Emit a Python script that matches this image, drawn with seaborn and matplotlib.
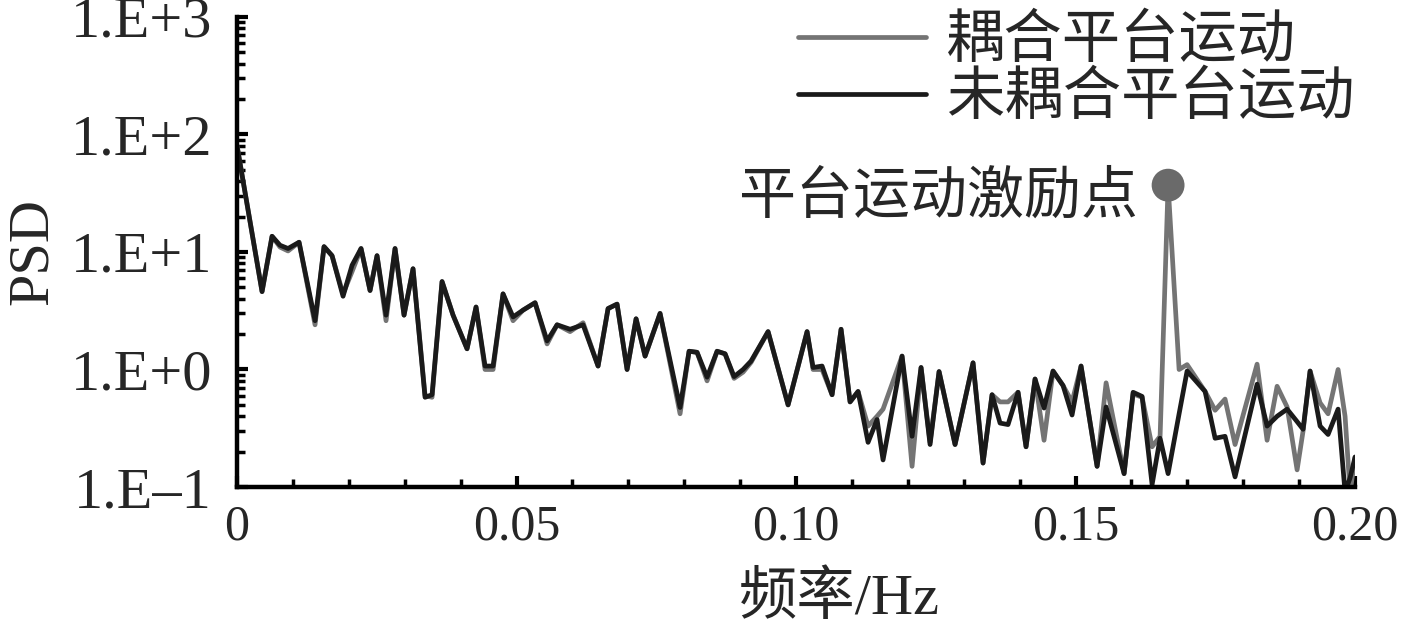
import numpy as np
import pandas as pd
import matplotlib
matplotlib.use('Agg')
import matplotlib.pyplot as plt
import seaborn as sns
from matplotlib.ticker import MultipleLocator, LogLocator, NullFormatter

# 频率 / Hz (顶点位置, 从图上读出)
freq = [0.0, 0.00447, 0.00626, 0.00769, 0.00912, 0.01109, 0.01395, 0.01556, 0.01699, 0.01896,
        0.02057, 0.02218, 0.02379, 0.02504, 0.02665, 0.02826, 0.02987, 0.03148, 0.03363, 0.03488,
        0.03667, 0.03864, 0.04114, 0.04275, 0.04436, 0.0458, 0.04758, 0.04937, 0.05116, 0.05331,
        0.05546, 0.05725, 0.05957, 0.0619, 0.06458, 0.06637, 0.06798, 0.06977, 0.07138, 0.07299,
        0.07567, 0.07925, 0.08086, 0.08229, 0.08408, 0.08587, 0.0873, 0.08891, 0.09052, 0.09195,
        0.09499, 0.09857, 0.10197, 0.10304, 0.10465, 0.10644, 0.10805, 0.10966, 0.11109, 0.11288,
        0.11449, 0.11556, 0.11896, 0.12075, 0.12236, 0.12397, 0.12558, 0.12844, 0.13166, 0.13345,
        0.13506, 0.13649, 0.13792, 0.13971, 0.14114, 0.14275, 0.14436, 0.14597, 0.14776, 0.14937,
        0.15098, 0.15385, 0.15546, 0.15868, 0.16029, 0.1619, 0.16369, 0.16512, 0.16655, 0.16852,
        0.16995, 0.17317, 0.17496, 0.17674, 0.17853, 0.18247, 0.18426, 0.18605, 0.18784, 0.18963,
        0.1907, 0.19195, 0.19374, 0.19517, 0.19696, 0.19821, 0.19911, 0.2]

# 耦合平台运动 (灰线)
psd_coupled = [80, 4.6, 13.6, 11.0, 10.2, 12.1, 2.4, 11.1, 9.3, 4.4,
               6.8, 10.7, 4.7, 9.3, 2.6, 10.7, 2.9, 7.2, 0.60, 0.58,
               5.6, 2.9, 1.5, 3.4, 1.0, 1.0, 4.4, 2.6, 3.2, 3.7,
               1.65, 2.4, 2.1, 2.5, 1.07, 3.3, 3.6, 1.0, 2.7, 1.3,
               3.0, 0.42, 1.43, 1.40, 0.80, 1.43, 1.36, 0.84, 0.95, 1.15,
               2.1, 0.50, 2.1, 1.0, 1.0, 0.61, 2.2, 0.53, 0.65, 0.33,
               0.40, 0.46, 1.3, 0.15, 1.04, 0.24, 0.96, 0.23, 1.14, 0.16,
               0.61, 0.53, 0.53, 0.64, 0.22, 0.83, 0.25, 0.97, 0.73, 0.53,
               1.07, 0.15, 0.77, 0.13, 0.62, 0.58, 0.22, 0.27, 37, 1.0,
               1.1, 0.65, 0.45, 0.56, 0.23, 1.11, 0.25, 0.72, 0.48, 0.14,
               0.30, 0.97, 0.52, 0.42, 1.0, 0.40, 0.09, 0.18]

# 未耦合平台运动 (黑线)
psd_uncoupled = [80, 4.6, 13.6, 11.4, 10.7, 12.1, 2.6, 11.1, 9.3, 4.2,
                 7.7, 10.7, 4.7, 9.3, 2.9, 10.7, 2.9, 7.2, 0.58, 0.61,
                 5.6, 2.9, 1.5, 3.4, 1.07, 1.07, 4.4, 2.8, 3.2, 3.7,
                 1.75, 2.4, 2.2, 2.4, 1.07, 3.3, 3.6, 1.0, 2.7, 1.3,
                 3.0, 0.475, 1.43, 1.40, 0.86, 1.43, 1.36, 0.87, 1.0, 1.18,
                 2.1, 0.50, 2.1, 1.04, 1.07, 0.61, 2.2, 0.53, 0.65, 0.24,
                 0.375, 0.17, 1.3, 0.27, 1.04, 0.23, 0.96, 0.23, 1.14, 0.16,
                 0.61, 0.35, 0.34, 0.64, 0.22, 0.83, 0.47, 0.97, 0.73, 0.41,
                 1.07, 0.15, 0.48, 0.13, 0.64, 0.59, 0.105, 0.26, 0.13, 0.42,
                 0.97, 0.65, 0.26, 0.27, 0.122, 0.75, 0.33, 0.40, 0.46, 0.36,
                 0.31, 0.97, 0.33, 0.28, 0.46, 0.09, 0.12, 0.18]

ytick_vals = [0.1, 1, 10, 100, 1000]
ytick_labels = ['1.E\u20131', '1.E+0', '1.E+1', '1.E+2', '1.E+3']
xtick_vals = [0, 0.05, 0.10, 0.15, 0.20]
xtick_labels = ['0', '0.05', '0.10', '0.15', '0.20']

sns.set_style('ticks')
plt.rcParams['font.family'] = ['Liberation Serif', 'Noto Sans CJK SC']
plt.rcParams['axes.unicode_minus'] = False

df = pd.DataFrame({'f': freq * 2,
                   'psd': psd_coupled + psd_uncoupled,
                   'case': ['耦合平台运动'] * len(freq) + ['未耦合平台运动'] * len(freq)})

fig = plt.figure(figsize=(14.17, 6.26), dpi=100)
ax = fig.add_axes([0.1673, 0.222, 0.789, 0.751])

sns.lineplot(data=df, x='f', y='psd', hue='case', sort=False, ax=ax,
             palette={'耦合平台运动': '#747474', '未耦合平台运动': '#1a1a1a'},
             linewidth=3.4, estimator=None)

# 激励点: 耦合与未耦合差别最大的位置
ratio = np.array(psd_coupled) / np.array(psd_uncoupled)
i_peak = int(np.argmax(ratio))
sns.scatterplot(x=[freq[i_peak]], y=[psd_coupled[i_peak]], ax=ax, s=560,
                color='#6a6a6a', edgecolor='none', legend=False, zorder=5)
ax.annotate('平台运动激励点', xy=(freq[i_peak], psd_coupled[i_peak]),
            xytext=(-22, -9), textcoords='offset points', ha='right', va='center',
            fontsize=41)

ax.set_yscale('log')
ax.set_xlim(0, 0.2)
ax.set_ylim(0.1, 1000)
ax.set_yticks(ytick_vals)
ax.set_yticklabels(ytick_labels)
ax.set_xticks(xtick_vals)
ax.set_xticklabels(xtick_labels)
ax.xaxis.set_minor_locator(MultipleLocator(0.01))
ax.yaxis.set_minor_locator(LogLocator(base=10, subs=np.arange(2, 10)))
ax.yaxis.set_minor_formatter(NullFormatter())

ax.tick_params(axis='both', which='major', direction='in', length=8, width=3,
               color='black')
ax.tick_params(axis='both', which='minor', direction='in', length=6, width=2.5,
               color='black')
ax.tick_params(axis='x', which='major', pad=12, labelsize=36)
ax.tick_params(axis='y', which='major', pad=18, labelsize=42)

for side in ['top', 'right']:
    ax.spines[side].set_visible(False)
for side in ['left', 'bottom']:
    ax.spines[side].set_linewidth(3.2)
    ax.spines[side].set_color('black')

ax.set_xlabel('频率/Hz', fontsize=42)
ax.set_ylabel('PSD', fontsize=42)
ax.xaxis.set_label_coords(0.539, -0.18)
ax.yaxis.set_label_coords(-0.159, 0.5)

leg = ax.legend(loc='upper right', bbox_to_anchor=(1.0, 1.005), frameon=False,
                fontsize=42, handlelength=2.2, handletextpad=0.35,
                labelspacing=0.05, borderpad=0, borderaxespad=0)
for h in leg.get_lines():
    h.set_linewidth(3.4)

fig.savefig('out.png', dpi=100)
